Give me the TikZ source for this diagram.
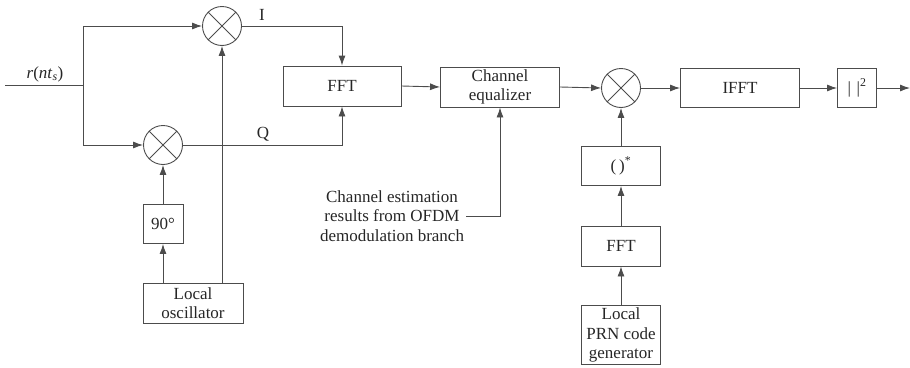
\documentclass[tikz,border=0pt]{standalone}
\usepackage{fontspec}
\setmainfont{Liberation Serif}
\usetikzlibrary{arrows.meta}
\tikzset{
	blk/.style={draw=black!70, line width=0.9pt, rectangle, align=center, inner sep=1pt, text=black!85},
	mix/.style={draw=black!70, line width=0.9pt, circle, minimum size=39pt, inner sep=0pt},
	wire/.style={draw=black!70, line width=0.9pt},
	arr/.style={wire, -{Latex[length=10pt,width=7pt]}},
}
\def\mixcross#1{\draw[wire] (#1.north west) -- (#1.south east) (#1.north east) -- (#1.south west);}

\begin{document}
\begin{tikzpicture}[x=1pt, y=-1pt, font=\fontsize{17}{19.5}\selectfont]
			%%%%% START %%%%%
			\useasboundingbox (0, 0) rectangle (910, 367);
			
			\coordinate (in) at (5, 85);
			\coordinate (split) at (83, 85);
			\coordinate (out) at (910, 88);
			
			\node[text=black!85] (rlab) at (45, 74) {\textit{r}(\textit{nt}\textsubscript{\textit{s}})};
			
			\node[mix] (mixI) at (222, 26) {};
			\node[mix] (mixQ) at (163, 145) {};
			\mixcross{mixI}
			\mixcross{mixQ}
			
			\node[blk, minimum width=40pt, minimum height=39pt] (shift) at (163, 224) {90°};
			\node[blk, minimum width=100pt, minimum height=40pt] (lo) at (193, 303) {Local\\oscillator};
			
			\node[blk, minimum width=118pt, minimum height=40pt] (fft1) at (342, 86) {FFT};
			\node[blk, minimum width=119pt, minimum height=40pt] (eq) at (500, 87) {Channel\\equalizer};
			
			\node[mix] (mixC) at (621, 88) {};
			\mixcross{mixC}
			
			\node[blk, minimum width=119pt, minimum height=39pt] (ifft) at (740, 88) {IFFT};
			\node[blk, minimum width=39pt, minimum height=39pt] (mag) at (857, 88) {|\,\,|\textsuperscript{2}};
			
			\node[blk, minimum width=79pt, minimum height=39pt] (conj) at (621, 166) {(\,)\textsuperscript{*}};
			\node[blk, minimum width=79pt, minimum height=40pt] (fft2) at (621, 246) {FFT};
			\node[blk, minimum width=79pt, minimum height=59pt] (prn) at (621, 335) {Local\\PRN code\\generator};
			
			\node[text=black!85, align=center, inner sep=2pt] (est) at (392, 216) {Channel estimation\\results from OFDM\\demodulation branch};
			
			\node[text=black!85] (ilab) at (262, 15) {I};
			\node[text=black!85] (qlab) at (263, 134) {Q};
			
			% I/Q down-conversion
			\draw[wire] (in) -- (split);
			\draw[arr] (split) |- (mixI.west);
			\draw[arr] (split) |- (mixQ.west);
			\draw[arr] (mixI.east) -| (fft1.north);
			\draw[arr] (mixQ.east) -| (fft1.south);
			\draw[arr] (mixI |- lo.north) -- (mixI.south);
			\draw[arr] (shift |- lo.north) -- (shift.south);
			\draw[arr] (shift.north) -- (mixQ.south);
			
			% equalization and correlation
			\draw[arr] (fft1.east) -- (eq.west);
			\draw[arr] (est.east) -| (eq.south);
			\draw[arr] (eq.east) -- (mixC.west);
			\draw[arr] (mixC.east) -- (ifft.west);
			\draw[arr] (ifft.east) -- (mag.west);
			\draw[arr] (mag.east) -- (out);
			\draw[arr] (prn.north) -- (fft2.south);
			\draw[arr] (fft2.north) -- (conj.south);
			\draw[arr] (conj.north) -- (mixC.south);
			
			%%%%% END %%%%%
\end{tikzpicture}
\end{document}
